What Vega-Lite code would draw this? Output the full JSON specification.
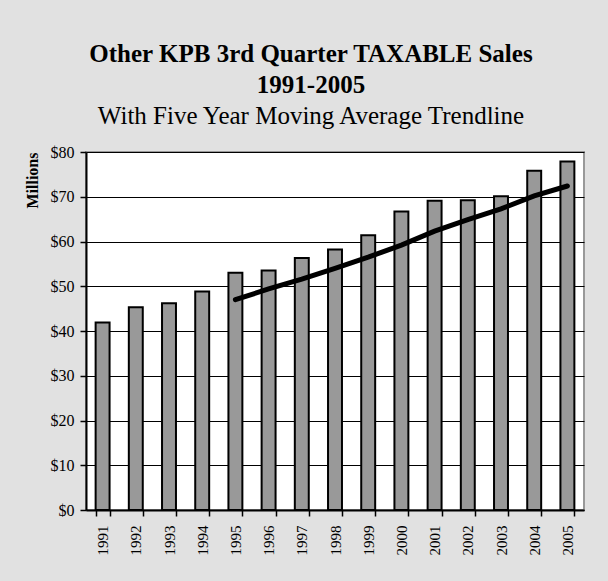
{
  "$schema": "https://vega.github.io/schema/vega-lite/v6.json",
  "autosize": "none",
  "width": 498,
  "height": 358,
  "padding": {"left": 86, "top": 152, "right": 24, "bottom": 71},
  "background": "#e1e1e1",
  "title": {
    "text": ["Other KPB 3rd Quarter TAXABLE Sales", "1991-2005"],
    "subtitle": "With Five Year Moving Average Trendline",
    "font": "Liberation Serif",
    "fontSize": 25,
    "fontWeight": "bold",
    "lineHeight": 31,
    "color": "#000000",
    "subtitleFont": "Liberation Serif",
    "subtitleFontSize": 25,
    "subtitleFontWeight": "normal",
    "subtitleColor": "#000000",
    "subtitleLineHeight": 31,
    "subtitlePadding": 6,
    "anchor": "middle",
    "dx": -24,
    "offset": 15
  },
  "config": {
    "view": {"fill": "#ffffff", "stroke": "#999999", "strokeWidth": 2},
    "axis": {
      "labelFont": "Liberation Serif",
      "titleFont": "Liberation Serif",
      "labelColor": "#000000",
      "titleColor": "#000000",
      "domainColor": "#000000",
      "tickColor": "#000000",
      "gridColor": "#000000"
    }
  },
  "data": {
    "values": [
      {"year": "1991", "sales": 41.9, "ma": null},
      {"year": "1992", "sales": 45.3, "ma": null},
      {"year": "1993", "sales": 46.2, "ma": null},
      {"year": "1994", "sales": 48.8, "ma": null},
      {"year": "1995", "sales": 53.0, "ma": 47.0},
      {"year": "1996", "sales": 53.5, "ma": 49.4},
      {"year": "1997", "sales": 56.3, "ma": 51.6},
      {"year": "1998", "sales": 58.2, "ma": 54.0},
      {"year": "1999", "sales": 61.4, "ma": 56.5},
      {"year": "2000", "sales": 66.7, "ma": 59.2},
      {"year": "2001", "sales": 69.1, "ma": 62.3},
      {"year": "2002", "sales": 69.2, "ma": 64.9},
      {"year": "2003", "sales": 70.1, "ma": 67.3},
      {"year": "2004", "sales": 75.8, "ma": 70.2},
      {"year": "2005", "sales": 77.9, "ma": 72.4}
    ]
  },
  "encoding": {
    "x": {
      "field": "year",
      "type": "ordinal",
      "scale": {"paddingInner": 0.58, "paddingOuter": 0.29},
      "axis": {
        "title": null,
        "labelAngle": -90,
        "labelFontSize": 15,
        "labelPadding": 9,
        "tickBand": "extent",
        "tickSize": 6,
        "tickWidth": 1.5,
        "domainWidth": 2,
        "grid": false
      }
    }
  },
  "layer": [
    {
      "mark": {"type": "bar", "color": "#999999", "stroke": "#000000", "strokeWidth": 2},
      "encoding": {
        "y": {
          "field": "sales",
          "type": "quantitative",
          "scale": {"domain": [0, 80], "nice": false},
          "axis": {
            "title": "Millions",
            "titleFontSize": 16,
            "titleFontWeight": "bold",
            "titleAnchor": "end",
            "titlePadding": 10,
            "labelFontSize": 16,
            "labelPadding": 6,
            "labelExpr": "'$' + datum.value",
            "values": [0, 10, 20, 30, 40, 50, 60, 70, 80],
            "tickSize": 6,
            "tickWidth": 1.5,
            "domainWidth": 2,
            "grid": true,
            "gridWidth": 1.2
          }
        }
      }
    },
    {
      "mark": {"type": "line", "color": "#000000", "strokeWidth": 5, "strokeCap": "round"},
      "encoding": {
        "y": {"field": "ma", "type": "quantitative"}
      }
    }
  ]
}
